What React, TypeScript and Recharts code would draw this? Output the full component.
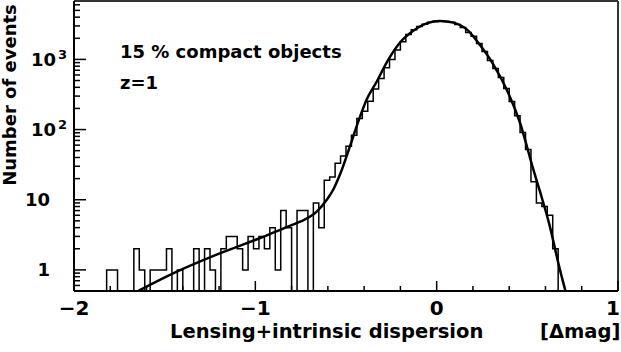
import { LineChart, Line, XAxis, YAxis } from "recharts";

// histogram: 100 bins of 0.03 mag from -2 to 1
const binStart = -2;
const binWidth = 0.03;
const counts = [
  0, 0, 0, 0, 0, 0, 1, 1, 0, 0,
  0, 2, 1, 0, 1, 1, 1, 2, 0, 1,
  0, 0, 2, 0, 2, 1, 0, 2, 3, 3,
  2, 1, 3, 2, 3, 2, 4, 1, 7, 4,
  0, 7, 7, 0, 9, 4, 19, 21, 33, 42,
  58, 83, 144, 183, 253, 380, 535, 760, 1000, 1360,
  1780, 2270, 2640, 2950, 3170, 3390, 3480, 3520, 3480, 3390,
  3140, 2860, 2420, 2130, 1690, 1300, 968, 744, 553, 385,
  251, 158, 91, 52, 18, 9, 8, 6, 2, 0,
  0, 0, 0, 0, 0, 0, 0, 0, 0, 0,
];

// fitted curve
const curveX = [
  -1.68, -1.43, -1.2, -0.98, -0.81, -0.75, -0.66, -0.606, -0.57, -0.53,
  -0.478, -0.43, -0.386, -0.331, -0.276, -0.202, -0.129, -0.055, 0.018, 0.092,
  0.166, 0.239, 0.312, 0.386, 0.46, 0.533, 0.57, 0.62, 0.68, 0.715,
];
const curveY = [
  0.45, 0.95, 1.7, 2.8, 4.25, 4.9, 6.8, 10, 14, 24,
  58, 135, 268, 480, 900, 1740, 2560, 3270, 3525, 3345,
  2680, 1600, 850, 372, 124, 27, 13, 4.6, 1.0, 0.45,
];

const xTicks = [-2, -1.8, -1.6, -1.4, -1.2, -1, -0.8, -0.6, -0.4, -0.2, 0, 0.2, 0.4, 0.6, 0.8, 1];
const xMajor = [-2, -1, 0, 1];
const xLabels = ["\u22122", "\u22121", "0", "1"];
const yTicks = [
  0.6, 0.7, 0.8, 0.9, 1, 2, 3, 4, 5, 6, 7, 8, 9, 10,
  20, 30, 40, 50, 60, 70, 80, 90, 100,
  200, 300, 400, 500, 600, 700, 800, 900, 1000,
  2000, 3000, 4000, 5000, 6000,
];
const yMajor = [1, 10, 100, 1000];

const Y_MIN = 0.5;
const Y_MAX = 6800;

const histData = counts.map((n, i) => ({
  x: binStart + i * binWidth,
  n: n > 0 ? n : Y_MIN,
}));
histData.push({ x: 1, n: histData[histData.length - 1].n });

const curveData = curveX.map((x, i) => ({ x, v: curveY[i] }));

const FONT = "'DejaVu Sans', sans-serif";

function XTick(props: any) {
  const { x, y, payload } = props;
  const idx = xMajor.indexOf(payload.value);
  const major = idx >= 0;
  const last = idx === xMajor.length - 1;
  return (
    <g>
      <line x1={x} x2={x} y1={y} y2={y - (major ? 10 : 5)} stroke="#000" strokeWidth={1.5} />
      {major && (
        <text
          x={last ? x + 2 : x}
          y={y + 24}
          textAnchor={last ? "end" : "middle"}
          fontFamily={FONT}
          fontWeight="bold"
          fontSize={20}
          fill="#000"
        >
          {xLabels[idx]}
        </text>
      )}
    </g>
  );
}

function YTick(props: any) {
  const { x, y, payload } = props;
  const v = payload.value;
  const major = yMajor.includes(v);
  let label = null;
  if (v === 1 || v === 10) {
    label = (
      <text x={x - 24} y={y + 6.5} textAnchor="end" fontFamily={FONT} fontWeight="bold" fontSize={18} fill="#000">
        {String(v)}
      </text>
    );
  } else if (major) {
    const exp = Math.round(Math.log10(v));
    label = (
      <text x={x - 7} y={y + 6.5} textAnchor="end" fontFamily={FONT} fontWeight="bold" fontSize={18} fill="#000">
        <tspan>10</tspan>
        <tspan dx={2} dy={-7} fontSize={13}>{String(exp)}</tspan>
      </text>
    );
  }
  return (
    <g>
      <line x1={x} x2={x + (major ? 12 : 6)} y1={y} y2={y} stroke="#000" strokeWidth={1.5} />
      {label}
    </g>
  );
}

const textStyle = {
  position: "absolute" as const,
  fontFamily: FONT,
  fontWeight: "bold" as const,
  fontSize: 18,
  color: "#000",
  whiteSpace: "nowrap" as const,
  lineHeight: "22px",
};

export default function App() {
  return (
    <div style={{ position: "relative", width: 621, height: 352, background: "#fff" }}>
      <style>{"body{margin:0}"}</style>
      <LineChart
        width={621}
        height={352}
        margin={{ top: 0, right: 0, bottom: 0, left: 0 }}
      >
        <XAxis
          type="number"
          dataKey="x"
          domain={[-2, 1]}
          ticks={xTicks}
          interval={0}
          height={61}
          tickSize={0}
          tickMargin={0}
          tickLine={false}
          tick={<XTick />}
          axisLine={{ stroke: "#000", strokeWidth: 2 }}
        />
        {/* frame: top and right edges */}
        <XAxis
          xAxisId="top"
          orientation="top"
          type="number"
          dataKey="x"
          domain={[-2, 1]}
          height={1}
          tick={false}
          tickLine={false}
          axisLine={{ stroke: "#333", strokeWidth: 2 }}
        />
        <YAxis
          scale="log"
          type="number"
          domain={[Y_MIN, Y_MAX]}
          allowDataOverflow
          ticks={yTicks}
          interval={0}
          width={74}
          tickSize={0}
          tickMargin={0}
          tickLine={false}
          tick={<YTick />}
          axisLine={{ stroke: "#000", strokeWidth: 2 }}
        />
        <YAxis
          yAxisId="right"
          orientation="right"
          scale="log"
          type="number"
          domain={[Y_MIN, Y_MAX]}
          allowDataOverflow
          width={3}
          tick={false}
          tickLine={false}
          axisLine={{ stroke: "#333", strokeWidth: 2 }}
        />
        <Line
          data={histData}
          dataKey="n"
          type="stepAfter"
          stroke="#000"
          strokeWidth={1.5}
          dot={false}
          isAnimationActive={false}
        />
        <Line
          data={curveData}
          dataKey="v"
          type="monotone"
          stroke="#000"
          strokeWidth={2.5}
          dot={false}
          isAnimationActive={false}
        />
      </LineChart>
      <div style={{ ...textStyle, left: 120, top: 41 }}>15 % compact objects</div>
      <div style={{ ...textStyle, left: 120, top: 72 }}>z=1</div>
      <div style={{ ...textStyle, left: 170, top: 321, fontSize: 19.5 }}>Lensing+intrinsic dispersion</div>
      <div style={{ ...textStyle, left: 540, top: 321, fontSize: 19.5 }}>[Δmag]</div>
      <div
        style={{
          ...textStyle,
          left: 10 - 100,
          top: 95 - 11,
          width: 200,
          textAlign: "center",
          transform: "rotate(-90deg)",
        }}
      >
        Number of events
      </div>
    </div>
  );
}
